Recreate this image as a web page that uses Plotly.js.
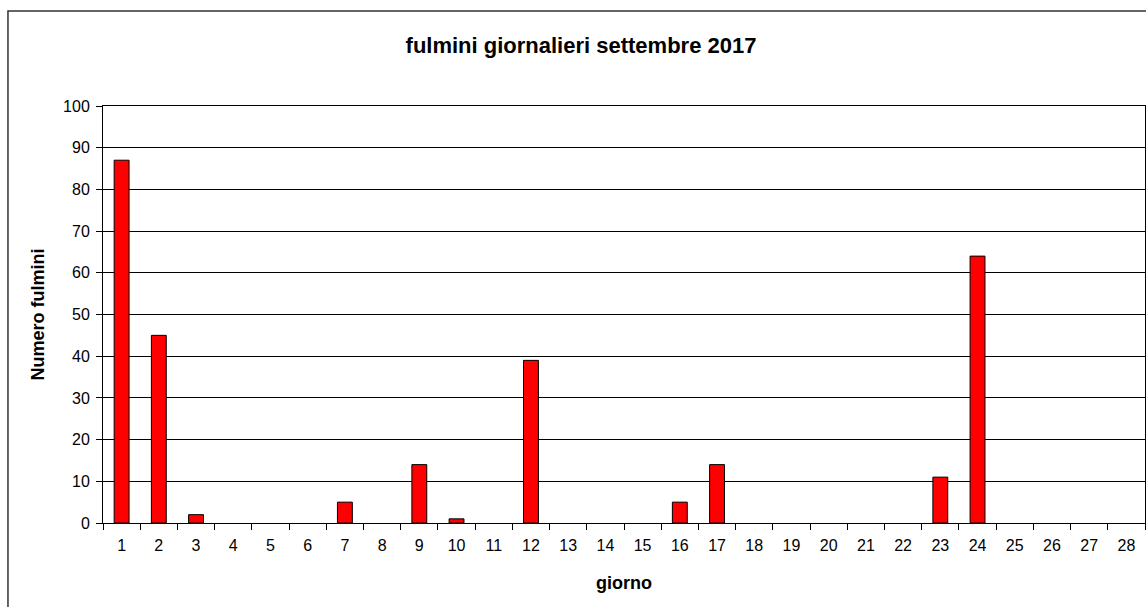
<!DOCTYPE html>
<html>
<head>
<meta charset="utf-8">
<script src="https://cdn.plot.ly/plotly-3.0.1.min.js"></script>
<style>html,body{margin:0;padding:0;background:#fff;}#chart{width:1146px;height:607px;}</style>
</head>
<body>
<div id="chart"></div>
<script>
const giorni = ["1","2","3","4","5","6","7","8","9","10","11","12","13","14","15","16","17","18","19","20","21","22","23","24","25","26","27","28"];
const fulmini = [87,45,2,0,0,0,5,0,14,1,0,39,0,0,0,5,14,0,0,0,0,0,11,64,0,0,0,0];
const yTicks = [0,10,20,30,40,50,60,70,80,90,100];

const trace = {
  type: 'bar',
  x: giorni,
  y: fulmini,
  marker: {color: '#ff0000', line: {color: '#000000', width: fulmini.map(v => v > 0 ? 1 : 0)}},
  hoverinfo: 'x+y'
};

const layout = {
  width: 1146, height: 607,
  margin: {l: 103, r: 1, t: 106, b: 84},
  paper_bgcolor: '#ffffff', plot_bgcolor: '#ffffff',
  font: {family: 'Liberation Sans, Arial, sans-serif', size: 16, color: '#000'},
  showlegend: false,
  bargap: 0.6,
  title: {text: '<b>fulmini giornalieri settembre 2017</b>', font: {size: 22, color: '#000'}, x: 0.507, xref: 'container', xanchor: 'center', y: 0.925, yref: 'container', yanchor: 'middle'},
  xaxis: {
    type: 'category',
    tickson: 'boundaries',
    ticks: 'outside', ticklen: 6, tickcolor: '#000', tickwidth: 1,
    ticklabelstandoff: 8,
    showline: true, linecolor: '#000', linewidth: 1, mirror: true,
    showgrid: false, zeroline: false,
    tickfont: {size: 16},
    title: {text: '<b>giorno</b>', font: {size: 18}, standoff: 23}
  },
  yaxis: {
    range: [0, 100],
    tickvals: yTicks,
    ticks: 'outside', ticklen: 6, tickcolor: '#000', tickwidth: 1,
    ticklabelstandoff: 3,
    showline: true, linecolor: '#000', linewidth: 1, mirror: true,
    showgrid: true, gridcolor: '#000', gridwidth: 1,
    zeroline: false,
    tickfont: {size: 16},
    title: {text: '<b>Numero fulmini</b>', font: {size: 18}, standoff: 13}
  },
  shapes: [{
    type: 'rect', xref: 'paper', yref: 'paper',
    x0: -0.0912, x1: 1.01, y0: -0.3, y1: 1.2278,
    line: {color: '#333', width: 1.5}, fillcolor: 'rgba(0,0,0,0)', layer: 'below'
  }]
};

Plotly.newPlot('chart', [trace], layout, {displayModeBar: false, staticPlot: true});
</script>
</body>
</html>
